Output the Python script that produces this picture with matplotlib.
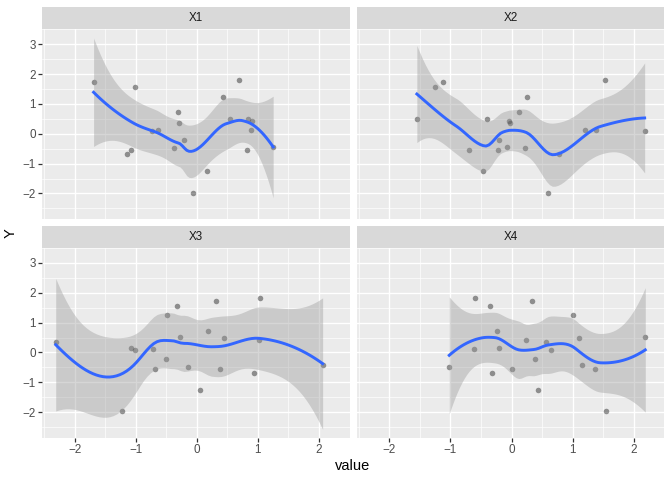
from math import lgamma, exp, sqrt, pi

import numpy as np
from matplotlib import pyplot as plt

# Response, shared by all four panels
Y = [1.73, 1.57, -0.68, -0.55, 0.08, 0.14, 0.72, 0.36, -0.47, -0.22,
     -1.97, -1.26, 1.24, 0.51, 1.81, 0.48, 0.42, 0.12, -0.55, -0.43]

# Predictors (one value per observation, same order as Y)
X1 = [-1.69, -1.02, -1.14, -1.07, -0.73, -0.63, -0.31, -0.29, -0.38, -0.21,
      -0.06, 0.16, 0.43, 0.55, 0.69, 0.84, 0.90, 0.88, 0.82, 1.25]
X2 = [-1.12, -1.26, 0.78, -0.69, 2.18, 1.21, 0.13, -0.02, 0.22, -0.20,
      0.59, -0.46, 0.26, -1.55, 1.53, -0.40, -0.04, 1.38, -0.22, -0.08]
X3 = [0.31, -0.33, 0.93, -0.69, -1.01, -1.07, 0.18, -2.31, -0.14, -0.50,
      -1.22, 0.05, -0.49, -0.28, 1.03, 0.45, 1.01, -0.71, 0.38, 2.06]
X4 = [0.34, -0.36, -0.32, 0.01, 0.65, -0.21, -0.23, 0.56, -1.02, 0.39,
      1.54, 0.44, 1.00, 2.19, -0.59, 1.10, 0.24, -0.62, 1.37, 1.15]

panel_names = ['X1', 'X2', 'X3', 'X4']
panel_data = [X1, X2, X3, X4]

plt.rcParams['font.family'] = ['Liberation Sans', 'DejaVu Sans']


def t_quantile(p, df):
    """Quantile of Student's t by bisection on a numerically integrated cdf."""
    c = exp(lgamma((df + 1) / 2) - lgamma(df / 2)) / sqrt(df * pi)

    def half_cdf(t):
        grid = np.linspace(0, t, 2001)
        return np.trapezoid(c * (1 + grid**2 / df) ** (-(df + 1) / 2), grid)

    lo, hi = 0.0, 10.0
    for _ in range(60):
        mid = (lo + hi) / 2
        if half_cdf(mid) < p - 0.5:
            lo = mid
        else:
            hi = mid
    return (lo + hi) / 2


def local_rows(x, x0, q):
    """Operator rows (value, slope) of a local quadratic fit at x0."""
    n = len(x)
    d = np.abs(x - x0)
    h = np.sort(d)[q - 1]
    u = np.clip(d / h, 0, 1)
    w = (1 - u**3) ** 3
    X = np.column_stack([np.ones(n), x - x0, (x - x0) ** 2])
    XtW = X.T * w
    B = np.linalg.solve(XtW @ X, XtW)
    return B[0], B[1]


def kd_vertices(x, fc):
    """Cell boundaries of the 1-d kd tree used by loess' interpolate surface."""
    xs = np.sort(x)
    mu = 0.005 * (xs[-1] - xs[0])
    verts = [xs[0] - mu, xs[-1] + mu]

    def split(pts):
        if len(pts) <= fc:
            return
        m = (len(pts) + 1) // 2
        verts.append((pts[m - 1] + pts[m]) / 2)
        split(pts[:m])
        split(pts[m:])

    split(xs)
    return np.sort(verts)


def loess_operator(x, x0s, span=0.75, cell=0.2):
    """Rows of the loess smoother, Hermite interpolated between kd vertices."""
    n = len(x)
    q = int(np.floor(n * span))
    fc = int(np.floor(n * span * cell))
    verts = kd_vertices(x, fc)
    vals, slopes = zip(*[local_rows(x, v, q) for v in verts])
    rows = []
    for x0 in x0s:
        k = np.clip(np.searchsorted(verts, x0) - 1, 0, len(verts) - 2)
        a, b = verts[k], verts[k + 1]
        h = b - a
        t = (x0 - a) / h
        h00 = 2 * t**3 - 3 * t**2 + 1
        h10 = t**3 - 2 * t**2 + t
        h01 = -2 * t**3 + 3 * t**2
        h11 = t**3 - t**2
        rows.append(h00 * vals[k] + h10 * h * slopes[k]
                    + h01 * vals[k + 1] + h11 * h * slopes[k + 1])
    return np.array(rows)


def loess_smooth(x, y, n_out=80, level=0.95):
    x = np.asarray(x, float)
    y = np.asarray(y, float)
    xs = np.linspace(x.min(), x.max(), n_out)
    L = loess_operator(x, x)
    resid = y - L @ y
    M = (np.eye(len(x)) - L).T @ (np.eye(len(x)) - L)
    delta1 = np.trace(M)
    delta2 = np.trace(M @ M)
    sigma = sqrt(np.sum(resid**2) / delta1)
    rows = loess_operator(x, xs)
    fit = rows @ y
    se = sigma * np.sqrt(np.sum(rows**2, axis=1))
    t = t_quantile(1 - (1 - level) / 2, delta1**2 / delta2)
    return xs, fit, fit - t * se, fit + t * se


smooths = [loess_smooth(xv, Y) for xv in panel_data]

# Shared scales with ggplot style 5% expansion
all_x = np.concatenate([np.asarray(v) for v in panel_data])
xmin, xmax = all_x.min(), all_x.max()
xpad = 0.05 * (xmax - xmin)
ylo = min(min(Y), min(s[2].min() for s in smooths))
yhi = max(max(Y), max(s[3].max() for s in smooths))
ypad = 0.05 * (yhi - ylo)

W, H = 672, 480
fig = plt.figure(figsize=(6.72, 4.8), dpi=100)

# panel boxes in pixels: (left, top, width, height)
lefts = [42, 356.7]
tops = [29.3, 248]
pw, ph = 307.5, 190.0
strip_h = 22.3
tick_size = 8.4

for i, (name, xv) in enumerate(zip(panel_names, panel_data)):
    row, col = divmod(i, 2)
    l, t = lefts[col], tops[row]
    ax = fig.add_axes([l / W, 1 - (t + ph) / H, pw / W, ph / H])
    ax.set_facecolor('#EBEBEB')
    for s in ax.spines.values():
        s.set_visible(False)

    xs, fit, lo, hi = smooths[i]
    ax.scatter(xv, Y, s=16, color='black', alpha=0.4, linewidths=0, zorder=2)
    ax.fill_between(xs, lo, hi, color='#999999', alpha=0.4, linewidth=0, zorder=3)
    ax.plot(xs, fit, color='#3366FF', linewidth=2.1, zorder=4)

    ax.set_xlim(xmin - xpad, xmax + xpad)
    ax.set_ylim(ylo - ypad, yhi + ypad)
    ax.set_xticks([-2, -1, 0, 1, 2])
    ax.set_xticks(np.arange(-2.5, 3.0, 1.0), minor=True)
    ax.set_yticks([-2, -1, 0, 1, 2, 3])
    ax.set_yticks(np.arange(-2.5, 4.0, 1.0), minor=True)
    ax.set_axisbelow(True)
    ax.grid(which='major', color='white', linewidth=1.0)
    ax.grid(which='minor', color='white', linewidth=0.5)
    ax.tick_params(which='minor', length=0)
    ax.tick_params(which='major', length=2.6, width=0.9, color='#333333',
                   labelsize=tick_size, labelcolor='#4D4D4D', pad=2)
    if row == 0:
        ax.tick_params(axis='x', length=0, labelbottom=False)
    if col == 1:
        ax.tick_params(axis='y', length=0, labelleft=False)

    # facet strip
    sax = fig.add_axes([l / W, 1 - t / H, pw / W, strip_h / H])
    sax.set_facecolor('#D9D9D9')
    sax.set_xticks([])
    sax.set_yticks([])
    for s in sax.spines.values():
        s.set_visible(False)
    sax.text(0.5, 0.5, name, ha='center', va='center', fontsize=tick_size,
             color='#1A1A1A', transform=sax.transAxes)

fig.text(353 / W, 1 - 466 / H, 'value', ha='center', va='center', fontsize=10.5)
fig.text(11 / W, 1 - 233.5 / H, 'Y', ha='center', va='center', fontsize=10.5,
         rotation=90)

fig.savefig('out.png', dpi=100)
